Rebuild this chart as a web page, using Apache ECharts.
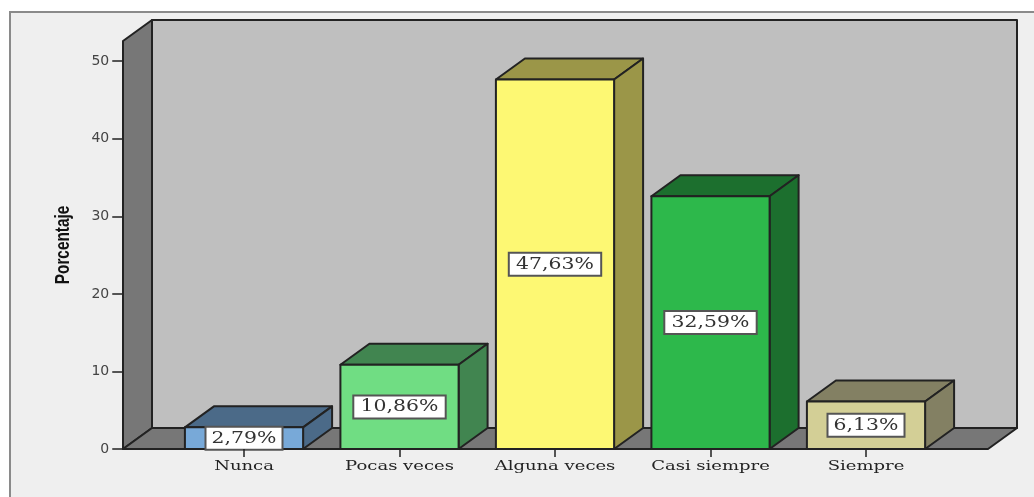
<!DOCTYPE html>
<html><head><meta charset="utf-8">
<style>html,body{margin:0;padding:0;background:#fff}#c{width:1034px;height:497px}</style>
<script src="https://cdn.jsdelivr.net/npm/echarts@6/dist/echarts.min.js"></script>
</head><body><div id="c"></div>
<script>
const categories = ['Nunca','Pocas veces','Alguna veces','Casi siempre','Siempre'];
const percentages = [2.79,10.86,47.63,32.59,6.13];
const frontColors = ['#78a9d8','#70dd83','#fdf873','#2db84b','#d3cf96'];
const sideColors = ['#4b6a88','#418550','#9b9648','#1c6f2e','#838063'];
const yTicks = [0,10,20,30,40,50];
const axisName = 'Porcentaje';
const decimalComma = v => v.toFixed(2).replace('.',',') + '%';
const DX = 29, DY = -21, EDGE = '#222222';

const chart = echarts.init(document.getElementById('c'));
function poly(points, fill, lw){
  return {type:'polygon', shape:{points}, style:{fill, stroke:EDGE, lineWidth:lw||2, lineJoin:'round'}};
}
chart.setOption({
  animation:false,
  backgroundColor:'#ffffff',
  graphic:[{type:'rect', z:-10, shape:{x:10,y:12,width:1040,height:500},
            style:{fill:'#efefef',stroke:'#8a8a8a',lineWidth:2}}],
  grid:{left:166.25,top:41,width:777.5,height:408,containLabel:false},
  xAxis:{type:'category',data:categories,
    axisLine:{show:false},
    axisTick:{show:true,alignWithLabel:true,length:8,lineStyle:{color:'#222',width:1.5}},
    axisLabel:{show:false},z:5},
  yAxis:{type:'value',min:0,max:52.6,interval:10,offset:43,
    axisLine:{show:false},
    axisTick:{show:true,length:11,customValues:yTicks,lineStyle:{color:'#222',width:1.5}},
    axisLabel:{margin:14,customValues:yTicks,fontFamily:'DejaVu Sans',fontSize:14,color:'#444'},
    splitLine:{show:false}},
  series:[
    {type:'custom',z:1,silent:true,data:[[0,0]],
     renderItem(params,api){
       const first = api.coord([0,0]), last = api.coord([categories.length-1,0]);
       const top = api.coord([0,52.6])[1], y0 = first[1];
       const xl = first[0]-121, xr = last[0]+122;
       return {type:'group',children:[
         poly([[xl+DX,top+DY],[xr+DX,top+DY],[xr+DX,y0+DY],[xl+DX,y0+DY]],'#bfbfbf'),
         poly([[xl,top],[xl+DX,top+DY],[xl+DX,y0+DY],[xl,y0]],'#777777'),
         poly([[xl,y0],[xl+DX,y0+DY],[xr+DX,y0+DY],[xr,y0]],'#777777'),
         {type:'text',x:xl-60,y:(top+y0)/2,rotation:Math.PI/2,scaleX:0.73,
          style:{text:axisName,x:0,y:0,align:'center',verticalAlign:'middle',
                 font:'bold 21px "Liberation Sans"',fill:'#111111'}}
       ]};
     }},
    {type:'custom',z:2,silent:true,
     data:percentages.map((v,i)=>[i,v]),
     encode:{x:0,y:1},
     renderItem(params,api){
       const i = params.dataIndex, v = api.value(1);
       const base = api.coord([i,0]), topP = api.coord([i,v]);
       const w = api.size([1,0])[0]*0.76;
       const l = base[0]-w/2, r = base[0]+w/2, t = topP[1], b = base[1];
       const cy = (t+b)/2, txt = decimalComma(v);
       const bw = txt.length*15.4, bh = 23;
       return {type:'group',children:[
         poly([[l,t],[l+DX,t+DY],[r+DX,t+DY],[r,t]],sideColors[i]),
         poly([[r,t],[r+DX,t+DY],[r+DX,b+DY],[r,b]],sideColors[i]),
         poly([[l,t],[r,t],[r,b],[l,b]],frontColors[i]),
         {type:'rect',shape:{x:base[0]-bw/2,y:cy-bh/2,width:bw,height:bh},
          style:{fill:'#ffffff',stroke:'#555555',lineWidth:2}},
         {type:'text',x:base[0],y:cy,scaleX:1.2,
          style:{text:txt,x:0,y:0,align:'center',verticalAlign:'middle',
                 font:'17px "DejaVu Serif"',fill:'#333333'}},
         {type:'text',x:base[0],y:b+18,scaleX:1.5,
          style:{text:categories[i],x:0,y:0,align:'center',verticalAlign:'middle',
                 font:'12px "DejaVu Serif"',fill:'#222222'}}
       ]};
     }}
  ]
});
</script></body></html>
